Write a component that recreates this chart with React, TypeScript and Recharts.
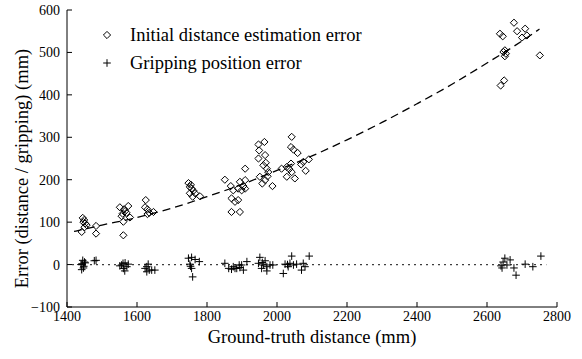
import { Legend, Scatter, ScatterChart, XAxis, YAxis } from "recharts";

const serif = "'Liberation Serif', 'Times New Roman', serif";

// Initial distance estimation error (diamonds)
const distX = [
  1445, 1449, 1452, 1442, 1456, 1483, 1483, 1447, 1450,
  1551, 1563, 1575, 1559, 1570, 1580, 1561, 1561, 1556, 1566,
  1625, 1623, 1630, 1630, 1647, 1635,
  1747, 1751, 1756, 1761, 1751, 1766, 1780, 1759, 1754,
  1851, 1868, 1870, 1880, 1889, 1870, 1894, 1889, 1909, 1899, 1894, 1909, 1909, 1875, 1904,
  1947, 1964, 1949, 1966, 1947, 1961, 1971, 1951, 1975, 1966, 1987, 1958, 1973, 1968,
  2042, 2040, 2047, 2059, 2013, 2028, 2040, 2042, 2028, 2051, 2075, 2082, 2091, 2069, 2035,
  2637, 2645, 2651, 2654, 2651, 2647, 2639, 2649, 2677, 2686, 2700, 2714, 2709, 2751,
];
const distY = [
  110, 105, 97, 77, 93, 91, 73, 100, 88,
  135, 130, 138, 120, 122, 111, 101, 69, 114, 126,
  152, 135, 130, 119, 124, 122,
  192, 183, 179, 174, 168, 168, 161, 160, 188,
  200, 185, 156, 148, 152, 124, 124, 179, 179, 175, 195, 199, 226, 175, 185,
  283, 289, 269, 258, 250, 234, 226, 207, 218, 199, 185, 191, 208, 240,
  301, 277, 271, 263, 226, 230, 238, 218, 207, 203, 242, 221, 248, 236, 225,
  544, 538, 505, 497, 491, 501, 422, 434, 570, 550, 535, 540, 556, 493,
];

// Gripping position error (pluses)
const gripX = [
  1445, 1450, 1443, 1448, 1442, 1452, 1447, 1483, 1478, 1440,
  1556, 1566, 1575, 1561, 1571, 1551, 1565, 1560,
  1628, 1632, 1623, 1635, 1651, 1628, 1642,
  1747, 1756, 1766, 1751, 1756, 1759, 1778, 1753,
  1851, 1870, 1875, 1885, 1892, 1899, 1904, 1914, 1880, 1894, 1862,
  1951, 1966, 1947, 1971, 1980, 1956, 1971, 1988, 1961, 1958,
  2042, 2037, 2023, 2047, 2018, 2032, 2056, 2075, 2080, 2092, 2070, 2030,
  2646, 2651, 2643, 2657, 2666, 2677, 2683, 2709, 2731, 2754, 2640,
];
const gripY = [
  10, 6, 2, -4, -12, 4, -8, 10, 9, 0,
  -1, 4, 1, -9, -5, -3, -15, 3,
  -5, 1, -9, -13, -13, -17, -13,
  15, 17, 12, 1, -9, -29, 7, -4,
  3, -11, -5, -9, -1, -1, -13, 7, -9, -7, -9,
  17, 9, 3, -5, -1, -9, -15, -1, -1, 5,
  20, 3, 1, -1, -21, -5, 1, 3, -5, 20, -13, 0,
  6, 15, -8, -1, 11, -8, -25, 1, -5, 20, -3,
];

// fitted curve
const fitX = [1420, 1500, 1600, 1700, 1800, 1900, 2000, 2100, 2200, 2300, 2400, 2500, 2600, 2700, 2750];
const fitY = [78, 93, 111, 133, 160, 189, 222, 256, 294, 335, 379, 425, 475, 527, 555];

const zeroX = [1415, 2770];

const xTicks = [1400, 1600, 1800, 2000, 2200, 2400, 2600, 2800];
const yTicks = [-100, 0, 100, 200, 300, 400, 500, 600];

const distData = distX.map((x, i) => ({ x, y: distY[i] }));
const gripData = gripX.map((x, i) => ({ x, y: gripY[i] }));
const fitData = fitX.map((x, i) => ({ x, y: fitY[i] }));
const zeroData = zeroX.map((x) => ({ x, y: 0 }));

const Diamond = ({ cx, cy }: any) => (
  <path d={`M${cx},${cy - 3.6}L${cx + 3.6},${cy}L${cx},${cy + 3.6}L${cx - 3.6},${cy}Z`} fill="none" stroke="#000" strokeWidth={1} />
);

const Plus = ({ cx, cy }: any) => (
  <path d={`M${cx - 3.8},${cy}H${cx + 3.8}M${cx},${cy - 3.8}V${cy + 3.8}`} fill="none" stroke="#000" strokeWidth={1} />
);

const NoDot = () => <g />;

const fmt = (v: number) => (v < 0 ? `\u2212${-v}` : `${v}`);

const XLabel = ({ viewBox }: any) => (
  <text x={viewBox.x + viewBox.width / 2} y={viewBox.y + 36} textAnchor="middle" fontFamily={serif} fontSize={18.5} fill="#000">
    Ground-truth distance (mm)
  </text>
);

const YLabel = ({ viewBox }: any) => {
  const x = viewBox.x + 22;
  const y = viewBox.y + viewBox.height / 2 + 10;
  return (
    <text x={x} y={y} transform={`rotate(-90, ${x}, ${y})`} textAnchor="middle" dominantBaseline="central" fontFamily={serif} fontSize={18.5} fill="#000">
      Error (distance / gripping) (mm)
    </text>
  );
};

const LegendBox = () => (
  <div style={{ fontFamily: serif, fontSize: 18.5, color: "#000", lineHeight: "28px" }}>
    <div style={{ display: "flex", alignItems: "center" }}>
      <svg width={32} height={28}>
        <Diamond cx={9} cy={14} />
      </svg>
      <span>Initial distance estimation error</span>
    </div>
    <div style={{ display: "flex", alignItems: "center" }}>
      <svg width={32} height={28}>
        <Plus cx={9} cy={14} />
      </svg>
      <span>Gripping position error</span>
    </div>
  </div>
);

const tickStyle = { fontFamily: serif, fontSize: 14, fill: "#000" };
const axisLine = { stroke: "#000", strokeWidth: 1 };

export default function App() {
  return (
    <div style={{ position: "absolute", left: 0, top: 0, background: "#fff" }}>
      <ScatterChart width={582} height={359} margin={{ top: 10, right: 25, bottom: 0, left: 0 }}>
        <XAxis
          dataKey="x"
          type="number"
          domain={[1400, 2800]}
          ticks={xTicks}
          height={52}
          tick={tickStyle}
          tickFormatter={fmt}
          tickSize={-5}
          tickMargin={9}
          axisLine={axisLine}
          tickLine={axisLine}
          label={<XLabel />}
        />
        <XAxis
          xAxisId="top"
          orientation="top"
          dataKey="x"
          type="number"
          domain={[1400, 2800]}
          ticks={xTicks}
          height={0}
          tick={false}
          tickSize={-5}
          axisLine={axisLine}
          tickLine={axisLine}
        />
        <YAxis
          dataKey="y"
          type="number"
          domain={[-100, 600]}
          ticks={yTicks}
          width={67}
          tick={tickStyle}
          tickFormatter={fmt}
          tickSize={-5}
          tickMargin={12}
          axisLine={axisLine}
          tickLine={axisLine}
          label={<YLabel />}
        />
        <YAxis
          yAxisId="right"
          orientation="right"
          dataKey="y"
          type="number"
          domain={[-100, 600]}
          ticks={yTicks}
          width={0}
          tick={false}
          tickSize={-5}
          axisLine={axisLine}
          tickLine={axisLine}
        />
        <Legend
          layout="vertical"
          align="center"
          verticalAlign="middle"
          content={<LegendBox />}
          wrapperStyle={{ top: 21, left: 98, width: "auto" }}
        />
        <Scatter
          xAxisId="top"
          yAxisId="right"
          data={zeroData}
          shape={<NoDot />}
          line={{ stroke: "#000", strokeWidth: 1.2, strokeDasharray: "1.5 4.5" }}
          isAnimationActive={false}
        />
        <Scatter
          data={fitData}
          shape={<NoDot />}
          line={{ stroke: "#000", strokeWidth: 1.3, strokeDasharray: "8 5" }}
          lineJointType="monotoneX"
          isAnimationActive={false}
        />
        <Scatter data={distData} shape={<Diamond />} isAnimationActive={false} />
        <Scatter data={gripData} shape={<Plus />} isAnimationActive={false} />
      </ScatterChart>
    </div>
  );
}
